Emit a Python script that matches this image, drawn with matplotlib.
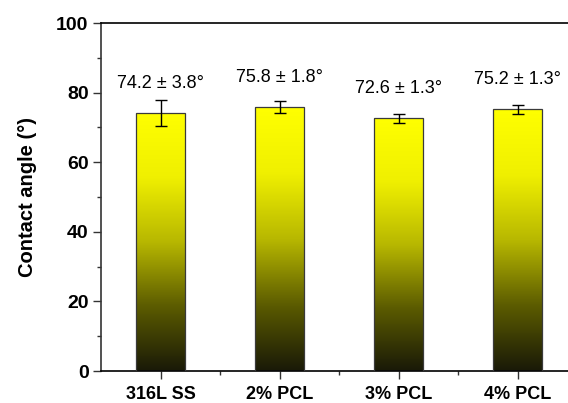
import numpy as np
import matplotlib
matplotlib.use("Agg")
import matplotlib.pyplot as plt
from matplotlib.colors import LinearSegmentedColormap
from matplotlib.ticker import MultipleLocator, FixedLocator

samples = ["316L SS", "2% PCL", "3% PCL", "4% PCL"]
angle_mean = [74.2, 75.8, 72.6, 75.2]
angle_err = [3.8, 1.8, 1.3, 1.3]

plt.rcParams["font.family"] = ["Liberation Sans", "DejaVu Sans"]

fig = plt.figure(figsize = (5.68, 4.03), dpi = 100)
ax = fig.add_axes([101 / 568, 32 / 403, 476 / 568, 348 / 403])

x = np.arange(len(samples))
bars = ax.bar(x, angle_mean, width = 0.41, color = "none",
              edgecolor = "#3a3a3a", linewidth = 0.9, zorder = 3)

# yellow to black fade inside each bar
fade = LinearSegmentedColormap.from_list("fade", [
    (0.0, (0.10, 0.10, 0.03)),
    (0.25, (0.36, 0.36, 0.0)),
    (0.5, (0.72, 0.72, 0.0)),
    (0.75, (0.94, 0.94, 0.0)),
    (1.0, (1.0, 1.0, 0.0)),
])
grad = np.linspace(0, 1, 256).reshape(-1, 1)
for b in bars:
    x0, w, h = b.get_x(), b.get_width(), b.get_height()
    im = ax.imshow(grad, cmap = fade, origin = "lower", aspect = "auto",
                   extent = [x0, x0 + w, 0, h], zorder = 2)
    im.set_clip_path(b)

ax.errorbar(x, angle_mean, yerr = angle_err, fmt = "none", ecolor = "black",
            elinewidth = 1.0, capsize = 4, capthick = 1.0, zorder = 4)

for xi, m, e in zip(x, angle_mean, angle_err):
    ax.text(xi, m + 8.5, f"{m:.1f} ± {e:.1f}°", ha = "center", va = "center",
            fontsize = 13)

ax.set_xlim(-0.5, 3.5)
ax.set_ylim(0, 100)
ax.set_xticks(x)
ax.set_xticklabels(samples, fontsize = 13, fontweight = "bold")
ax.xaxis.set_minor_locator(FixedLocator(x[:-1] + 0.5))
ax.yaxis.set_major_locator(MultipleLocator(20))
ax.yaxis.set_minor_locator(MultipleLocator(10))
for lab in ax.get_yticklabels():
    lab.set_fontweight("bold")
    lab.set_fontsize(14)
ax.tick_params(axis = "both", which = "major", direction = "out", length = 6,
               width = 1.0, color = "#333333")
ax.tick_params(axis = "both", which = "minor", direction = "out", length = 3,
               width = 1.0, color = "#333333")
ax.tick_params(axis = "x", pad = 5)
ax.tick_params(axis = "y", pad = 3)
ax.set_ylabel("Contact angle (°)", fontsize = 14.5, fontweight = "bold", labelpad = 14)

ax.spines["right"].set_visible(False)
for s in ["left", "bottom", "top"]:
    ax.spines[s].set_linewidth(1.2)
ax.spines["left"].set_color("#333333")

fig.savefig("out.png", dpi = 100)
